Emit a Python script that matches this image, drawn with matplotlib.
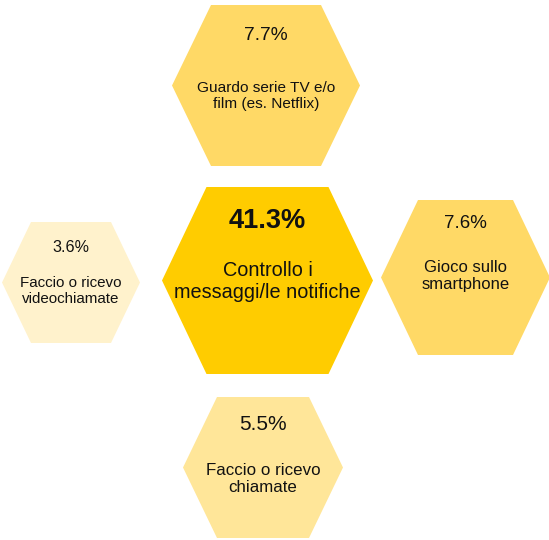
import matplotlib
matplotlib.use("Agg")
import matplotlib.pyplot as plt
from matplotlib.patches import Polygon

plt.rcParams['font.family'] = ['Liberation Sans', 'DejaVu Sans']

# Data
labels = ["Controllo i\nmessaggi/le notifiche",
          "Guardo serie TV e/o\nfilm (es. Netflix)",
          "Gioco sullo\nsmartphone",
          "Faccio o ricevo\nchiamate",
          "Faccio o ricevo\nvideochiamate"]
values = [41.3, 7.7, 7.6, 5.5, 3.6]

# Layout (pixel coordinates): cx, cy, half-width, half-height, half top edge
shapes = [
    (267.5, 280.5, 105.5, 93.5, 61),
    (266, 85.5, 94, 80.5, 55),
    (465.5, 277.5, 84.5, 77.5, 47.5),
    (263, 467.5, 80, 70.5, 46),
    (71, 282.5, 69, 60.5, 40),
]
colors = ["#FFCC00", "#FFD966", "#FFD966", "#FFE699", "#FFF2CC"]
# text: pct y, pct size, pct weight, label y, label size
texts = [
    (221, 19.6, 'bold', 282, 14.3),
    (35, 13.8, 'normal', 96, 11.1),
    (224, 13.5, 'normal', 276, 12),
    (425, 15, 'normal', 479, 12.2),
    (248, 11.6, 'normal', 291, 10.9),
]

fig = plt.figure(figsize=(5.49, 5.40), dpi=100)
ax = fig.add_axes([0, 0, 1, 1])
ax.set_xlim(0, 549)
ax.set_ylim(540, 0)
ax.axis('off')

for (cx, cy, w, h, t), c, (py, ps, pw, ly, ls), lab, v in zip(shapes, colors, texts, labels, values):
    pts = [(cx - t, cy - h), (cx + t, cy - h), (cx + w, cy), (cx + t, cy + h),
           (cx - t, cy + h), (cx - w, cy)]
    ax.add_patch(Polygon(pts, closed=True, facecolor=c, edgecolor='none'))
    ax.text(cx, py, f"{v}%", ha='center', va='center', fontsize=ps, fontweight=pw, color='#111111')
    ax.text(cx, ly, lab, ha='center', va='center', fontsize=ls, color='#111111', linespacing=1.2)

fig.savefig("out.png", dpi=100)
